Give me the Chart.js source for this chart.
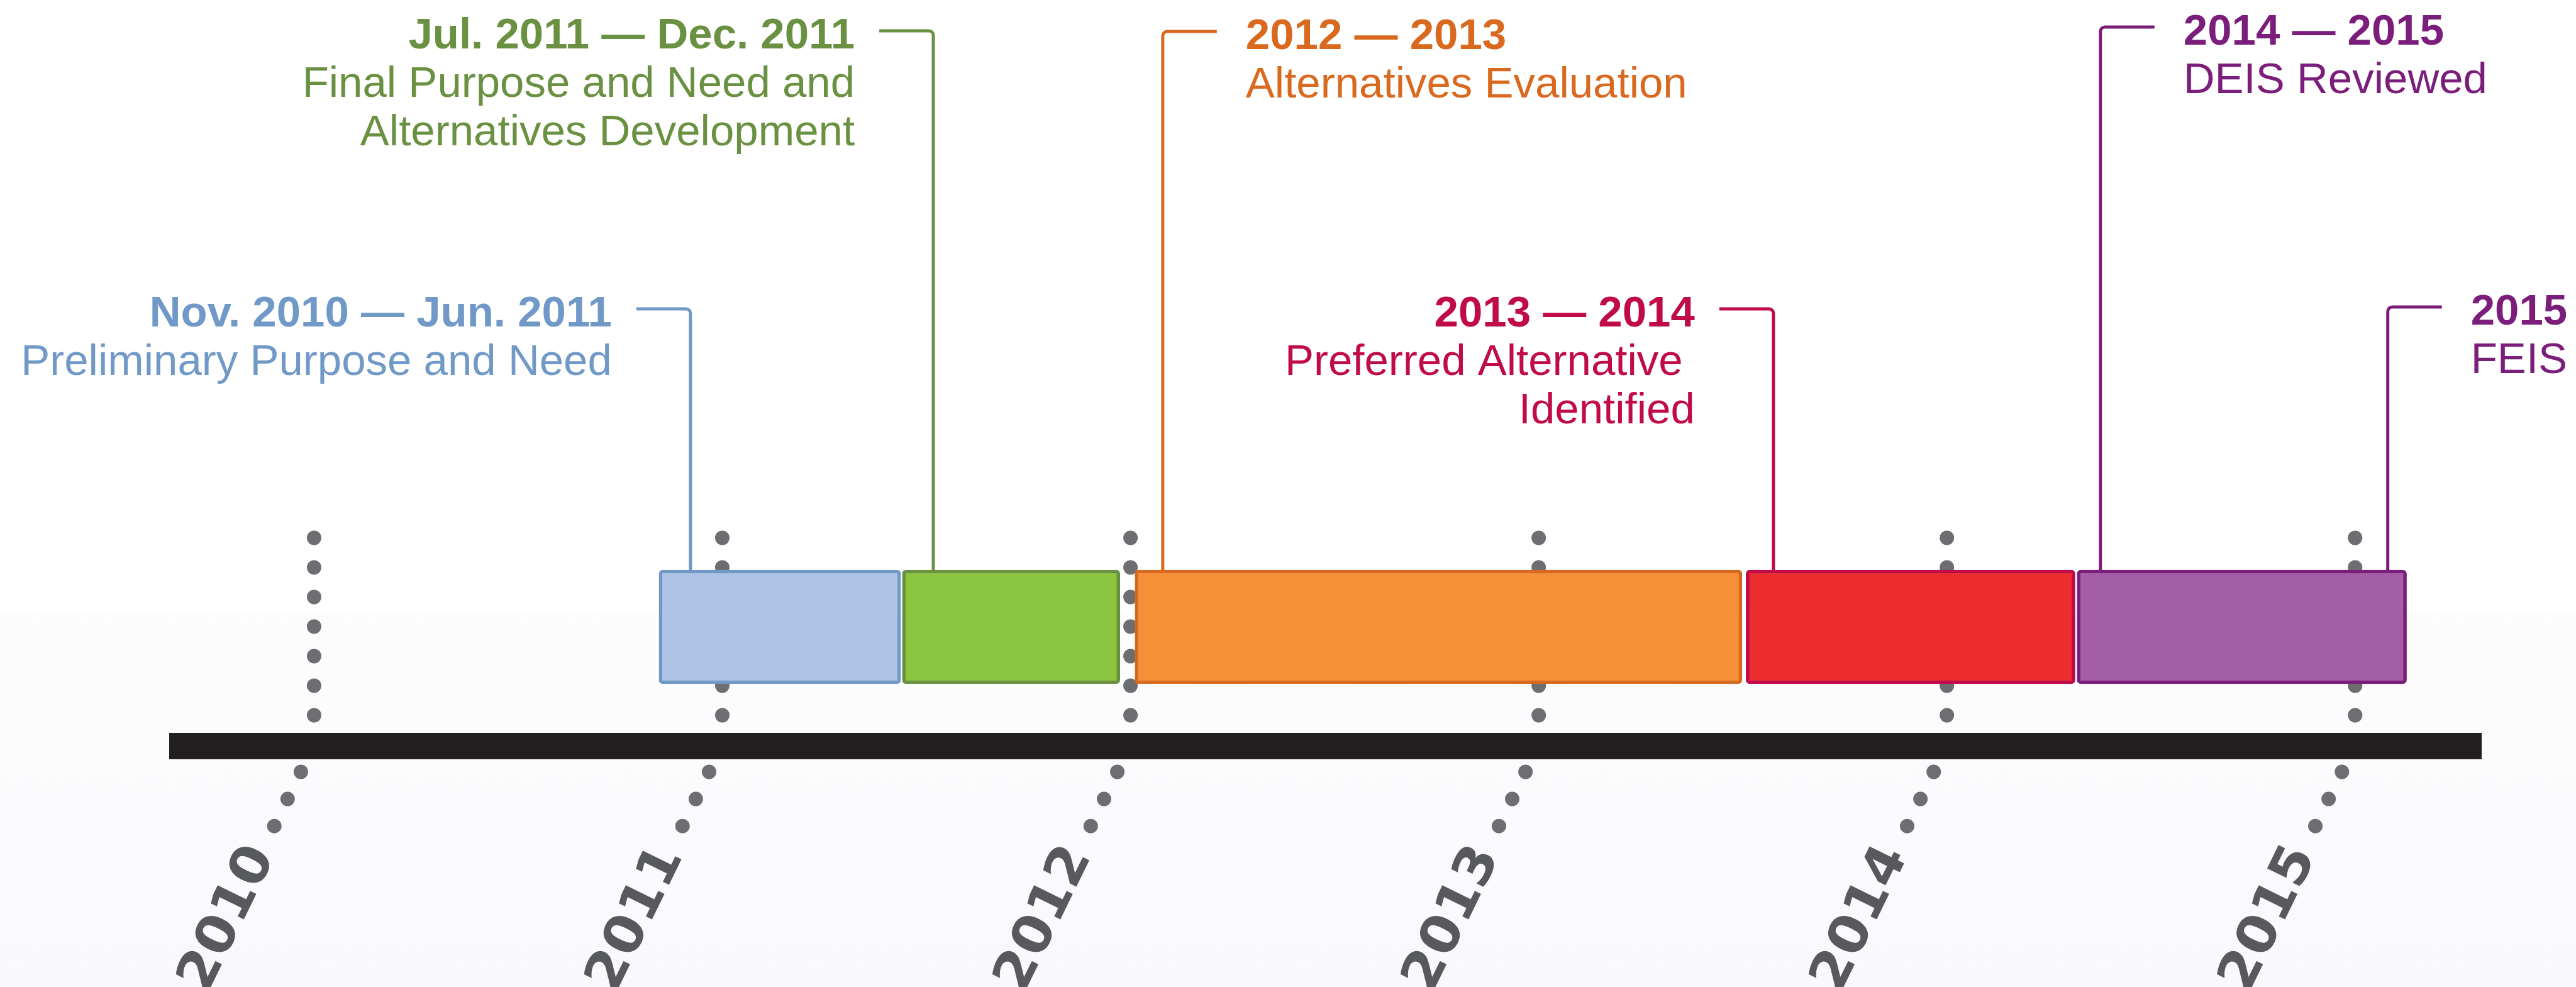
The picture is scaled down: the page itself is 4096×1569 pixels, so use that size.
<!DOCTYPE html>
<html>
<head>
<meta charset="utf-8">
<script src="https://cdn.jsdelivr.net/npm/chart.js@4/dist/chart.umd.min.js"></script>
<style>
  html, body { margin: 0; padding: 0; background: #ffffff; }
  canvas { display: block; }
</style>
</head>
<body>
<canvas id="timeline" width="4096" height="1569"></canvas>
<script>
/* Years shown as dotted columns under the timeline */
const years = [2010, 2011, 2012, 2013, 2014, 2015];

/* Phases (bars) as decimal years */
const phases = [
  'Preliminary Purpose and Need',
  'Final Purpose and Need and Alternatives Development',
  'Alternatives Evaluation',
  'Preferred Alternative Identified',
  'DEIS / FEIS'
];
const phaseStart = [2010.845, 2011.441, 2012.011, 2013.508, 2014.319];
const phaseEnd = [2011.437, 2011.974, 2013.498, 2014.314, 2015.126];

/* Callouts: date heading, description lines, which bar and where on the time axis the leader lands */
const calloutDates = [
  'Nov. 2010 — Jun. 2011',
  'Jul. 2011 — Dec. 2011',
  '2012 — 2013',
  '2013 — 2014',
  '2014 — 2015',
  '2015'
];
const calloutText = [
  ['Preliminary Purpose and Need'],
  ['Final Purpose and Need and', 'Alternatives Development'],
  ['Alternatives Evaluation'],
  ['Preferred Alternative ', 'Identified'],
  ['DEIS Reviewed'],
  ['FEIS']
];
const calloutBar = [0, 1, 2, 3, 4, 4];
const calloutAt = [2010.922, 2011.517, 2012.079, 2013.575, 2014.376, 2015.08];

/* Colours per phase */
const fills = ['#afc4e4', '#8cc540', '#f58f38', '#ec2d2e', '#a45ea6'];
const strokes = ['#7099c8', '#6a9141', '#d9691f', '#c00a4a', '#7b1e7b'];

/* Layout of the callouts (pixels): side of the leader and height of the leader line */
const calloutSide = ['left', 'left', 'right', 'left', 'right', 'right'];
const calloutY = [491, 49, 50, 491, 43, 488];

const labelFont = '"Liberation Sans", Arial, sans-serif';
const dotColor = '#6d6e71';
const dotRadius = 11.5;

function dot(ctx, x, y, r) {
  ctx.beginPath();
  ctx.arc(x, y, r, 0, Math.PI * 2);
  ctx.fill();
}

const timelinePlugin = {
  id: 'timeline',
  beforeDraw(chart) {
    const { ctx, width, height } = chart;
    ctx.save();
    ctx.fillStyle = '#ffffff';
    ctx.fillRect(0, 0, width, height);
    // very light tint on the lower part, as in the original
    const g = ctx.createLinearGradient(0, 973, 0, height);
    g.addColorStop(0, '#fdfdfe');
    g.addColorStop(1, '#f9f9fc');
    ctx.fillStyle = g;
    ctx.fillRect(0, 973, width, height - 973);
    ctx.restore();
  },
  beforeDatasetsDraw(chart) {
    const { ctx, chartArea } = chart;
    const x = chart.scales.x;
    const axisTop = chartArea.bottom;
    const axisBottom = axisTop + 42;
    ctx.save();
    ctx.fillStyle = dotColor;
    // dotted year columns (behind the bars)
    years.forEach((yr) => {
      const px = x.getPixelForValue(yr);
      for (let i = 0; i < 7; i++) dot(ctx, px, axisTop - 28 - 47 * i, dotRadius);
    });
    // thick black axis
    ctx.fillStyle = '#231f20';
    ctx.fillRect(x.left, axisTop, x.right - x.left, axisBottom - axisTop);
    // slanted dots and year labels below the axis
    const dx = -0.44, dy = 0.898;
    const angle = Math.atan2(-dy, -dx);
    years.forEach((yr) => {
      const sx = x.getPixelForValue(yr) - 21;
      const sy = axisBottom + 20;
      ctx.fillStyle = dotColor;
      for (let k = 0; k < 3; k++) dot(ctx, sx + dx * 48 * k, sy + dy * 48 * k, dotRadius);
      ctx.save();
      ctx.translate(sx + dx * 138, sy + dy * 138);
      ctx.rotate(angle);
      ctx.scale(1.05, 1);
      ctx.fillStyle = '#58595b';
      ctx.font = 'bold 84px "DejaVu Sans", sans-serif';
      ctx.textAlign = 'right';
      ctx.textBaseline = 'middle';
      ctx.fillText(String(yr), 0, 0);
      ctx.restore();
    });
    ctx.restore();
  },
  afterDatasetsDraw(chart) {
    const { ctx } = chart;
    const x = chart.scales.x;
    const bars = chart.getDatasetMeta(0).data;
    ctx.save();
    calloutDates.forEach((heading, i) => {
      const color = strokes[calloutBar[i]];
      const bar = bars[calloutBar[i]].getProps(['y', 'height'], true);
      const barTop = bar.y - bar.height / 2;
      const vx = x.getPixelForValue(calloutAt[i]);
      const ty = calloutY[i];
      const left = calloutSide[i] === 'left';
      // leader line with a small rounded corner
      ctx.strokeStyle = color;
      ctx.lineWidth = 5;
      ctx.beginPath();
      ctx.moveTo(left ? vx - 86 : vx + 86, ty);
      ctx.arcTo(vx, ty, vx, barTop, 7);
      ctx.lineTo(vx, barTop + 2);
      ctx.stroke();
      // texts
      const tx = left ? vx - 125 : vx + 132;
      ctx.fillStyle = color;
      ctx.textAlign = left ? 'right' : 'left';
      ctx.textBaseline = 'alphabetic';
      ctx.font = 'bold 69px ' + labelFont;
      ctx.fillText(heading, tx, ty + 28);
      ctx.font = '69px ' + labelFont;
      calloutText[i].forEach((line, j) => {
        ctx.fillText(line, tx, ty + 28 + 77 * (j + 1));
      });
    });
    ctx.restore();
  }
};

const canvas = document.getElementById('timeline');
new Chart(canvas, {
  type: 'bar',
  data: {
    labels: ['phases'],
    datasets: [
      {
        label: 'Phases',
        data: phaseStart.map((s, i) => ({ x: [s, phaseEnd[i]], y: 'phases' })),
        backgroundColor: fills,
        borderColor: strokes,
        borderWidth: 5.5,
        borderRadius: 6,
        borderSkipped: false,
        barThickness: 181
      }
    ]
  },
  options: {
    indexAxis: 'y',
    responsive: false,
    animation: false,
    layout: { padding: { top: 828, bottom: 404, left: 269, right: 150 } },
    scales: {
      x: { type: 'linear', min: 2009.645, max: 2015.31, display: false },
      y: { display: false }
    },
    plugins: {
      legend: { display: false },
      tooltip: { enabled: false }
    }
  },
  plugins: [timelinePlugin]
});
</script>
</body>
</html>
